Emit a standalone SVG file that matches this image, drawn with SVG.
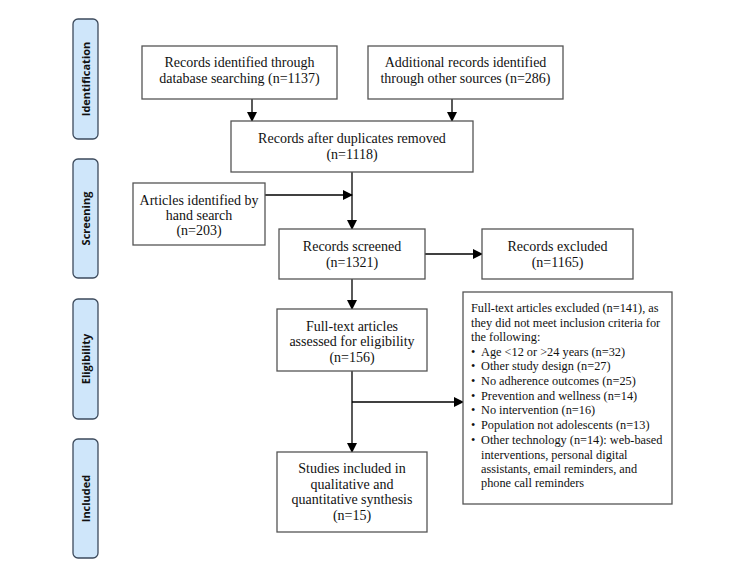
<svg xmlns="http://www.w3.org/2000/svg" width="740" height="577" viewBox="0 0 740 577">
<defs>
<marker id="ah" markerWidth="10" markerHeight="10" refX="9" refY="5" orient="auto" markerUnits="userSpaceOnUse">
<path d="M0,0 L10,5 L0,10 Z" fill="#000"/>
</marker>
<style>
.box{fill:#fff;stroke:#555;stroke-width:1.3}
.phase{fill:#cfe6fa;stroke:#3c4a5c;stroke-width:1.3}
.t{font-family:"Liberation Serif","Times New Roman",serif;font-size:14px;fill:#111;text-anchor:middle}
.tl{font-family:"Liberation Serif","Times New Roman",serif;font-size:12.3px;fill:#111}
.ph{font-family:"Open Sans","DejaVu Sans",sans-serif;font-size:11px;font-weight:bold;fill:#111;text-anchor:middle}
.c{stroke:#000;stroke-width:1.3;fill:none}
</style>
</defs>
<g id="phase-identification"><rect class="phase" x="73" y="19" width="25" height="120" rx="5"/><text class="ph" transform="translate(89.5,79) rotate(-90)">Identification</text></g>
<g id="phase-screening"><rect class="phase" x="73" y="159" width="25" height="119" rx="5"/><text class="ph" transform="translate(89.5,218.5) rotate(-90)">Screening</text></g>
<g id="phase-eligibility"><rect class="phase" x="73" y="299" width="25" height="120" rx="5"/><text class="ph" transform="translate(89.5,359) rotate(-90)">Eligibility</text></g>
<g id="phase-included"><rect class="phase" x="73" y="439" width="25" height="119" rx="5"/><text class="ph" transform="translate(89.5,498.5) rotate(-90)">Included</text></g>

<g id="connectors">
<line class="c" x1="252" y1="99" x2="252" y2="121" marker-end="url(#ah)"/>
<line class="c" x1="452" y1="99" x2="452" y2="121" marker-end="url(#ah)"/>
<line class="c" x1="352" y1="172" x2="352" y2="229" marker-end="url(#ah)"/>
<line class="c" x1="265" y1="195" x2="352" y2="195" marker-end="url(#ah)"/>
<line class="c" x1="425" y1="254" x2="482" y2="254" marker-end="url(#ah)"/>
<line class="c" x1="352" y1="279" x2="352" y2="309" marker-end="url(#ah)"/>
<line class="c" x1="352" y1="371" x2="352" y2="452" marker-end="url(#ah)"/>
<line class="c" x1="352" y1="402" x2="463" y2="402" marker-end="url(#ah)"/>
</g>

<g id="n-database"><rect class="box" x="142" y="46" width="195" height="53"/><text class="t" x="239.5" y="67">Records identified through</text><text class="t" x="239.5" y="83">database searching (n=1137)</text></g>
<g id="n-other"><rect class="box" x="368" y="46" width="195" height="53"/><text class="t" x="465.5" y="67">Additional records identified</text><text class="t" x="465.5" y="83">through other sources (n=286)</text></g>
<g id="n-duplicates"><rect class="box" x="231" y="121" width="242" height="51"/><text class="t" x="352" y="143">Records after duplicates removed</text><text class="t" x="352" y="159">(n=1118)</text></g>
<g id="n-hand"><rect class="box" x="133" y="183" width="132" height="62"/><text class="t" x="199" y="205">Articles identified by</text><text class="t" x="199" y="220">hand search</text><text class="t" x="199" y="235">(n=203)</text></g>
<g id="n-screened"><rect class="box" x="279" y="229" width="146" height="50"/><text class="t" x="352" y="251">Records screened</text><text class="t" x="352" y="267">(n=1321)</text></g>
<g id="n-excluded"><rect class="box" x="482" y="229" width="151" height="50"/><text class="t" x="557.5" y="251">Records excluded</text><text class="t" x="557.5" y="267">(n=1165)</text></g>
<g id="n-fulltext"><rect class="box" x="277" y="309" width="150" height="62"/><text class="t" x="352" y="331">Full-text articles</text><text class="t" x="352" y="346">assessed for eligibility</text><text class="t" x="352" y="362">(n=156)</text></g>
<g id="n-ftexcluded"><rect class="box" x="463" y="292" width="209" height="212"/>
<text class="tl" x="471" y="312">Full-text articles excluded (n=141), as</text>
<text class="tl" x="471" y="326.5">they did not meet inclusion criteria for</text>
<text class="tl" x="471" y="341">the following:</text>
<text class="tl" x="471" y="355.5">•</text><text class="tl" x="481" y="355.5">Age &lt;12 or &gt;24 years (n=32)</text>
<text class="tl" x="471" y="370">•</text><text class="tl" x="481" y="370">Other study design (n=27)</text>
<text class="tl" x="471" y="385">•</text><text class="tl" x="481" y="385">No adherence outcomes (n=25)</text>
<text class="tl" x="471" y="399.5">•</text><text class="tl" x="481" y="399.5">Prevention and wellness (n=14)</text>
<text class="tl" x="471" y="414">•</text><text class="tl" x="481" y="414">No intervention (n=16)</text>
<text class="tl" x="471" y="429">•</text><text class="tl" x="481" y="429">Population not adolescents (n=13)</text>
<text class="tl" x="471" y="444">•</text><text class="tl" x="481" y="444">Other technology (n=14): web-based</text>
<text class="tl" x="481" y="458.5">interventions, personal digital</text>
<text class="tl" x="481" y="473">assistants, email reminders, and</text>
<text class="tl" x="481" y="487">phone call reminders</text>
</g>
<g id="n-included"><rect class="box" x="277" y="452" width="150" height="80"/><text class="t" x="352" y="473">Studies included in</text><text class="t" x="352" y="489">qualitative and</text><text class="t" x="352" y="504">quantitative synthesis</text><text class="t" x="352" y="520">(n=15)</text></g>
</svg>
